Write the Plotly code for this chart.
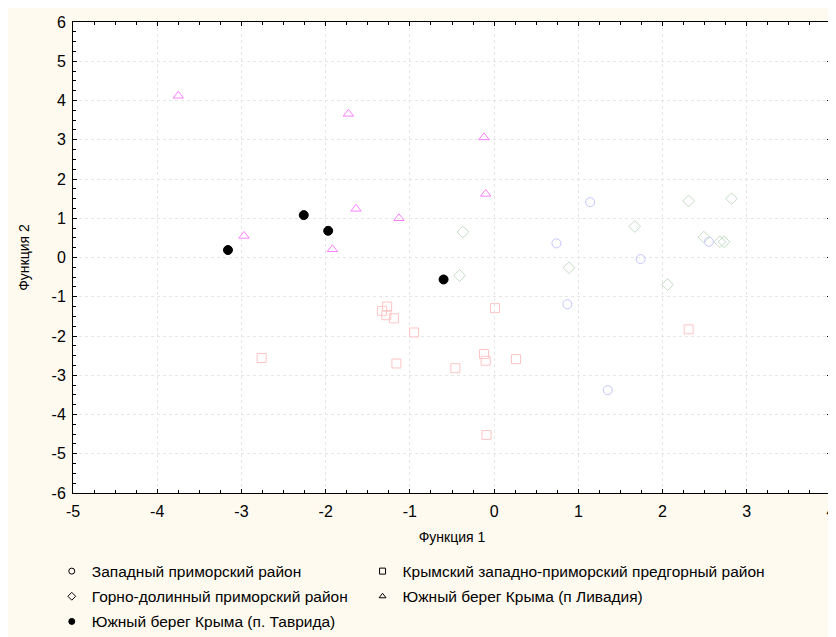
import plotly.graph_objects as go

# Западный приморский район (circles)
zap_x = [1.14, 0.74, 2.55, 1.74, 0.87, 1.35]
zap_y = [1.41, 0.36, 0.40, -0.04, -1.19, -3.38]

# Крымский западно-приморский предгорный район (squares)
krym_x = [-1.27, -1.33, -1.28, -1.19, -0.95, 0.01, -0.12, -0.10, 0.26, -1.16, -0.46, -0.09, 2.31, -2.76]
krym_y = [-1.25, -1.36, -1.47, -1.55, -1.91, -1.29, -2.46, -2.63, -2.59, -2.70, -2.82, -4.52, -1.83, -2.56]

# Горно-долинный приморский район (diamonds)
gorno_x = [2.31, 2.82, 1.67, 2.49, 2.68, 2.73, 0.89, 2.06, -0.41, -0.37]
gorno_y = [1.44, 1.50, 0.79, 0.52, 0.40, 0.40, -0.26, -0.69, -0.46, 0.65]

# Южный берег Крыма (п Ливадия) (triangles)
liv_x = [-3.75, -1.73, -0.12, -0.10, -1.64, -1.13, -2.97, -1.92]
liv_y = [4.12, 3.66, 3.06, 1.62, 1.24, 1.00, 0.55, 0.21]

# Южный берег Крыма (п. Таврида) (filled circles)
tav_x = [-3.16, -2.26, -1.97, -0.60]
tav_y = [0.19, 1.08, 0.68, -0.56]

names = [
    "Западный приморский район",
    "Крымский западно-приморский предгорный район",
    "Горно-долинный приморский район",
    "Южный берег Крыма (п Ливадия)",
    "Южный берег Крыма (п. Таврида)",
]

x_tickvals = [-5, -4, -3, -2, -1, 0, 1, 2, 3, 4]
x_ticktext = ["-5", "-4", "-3", "-2", "-1", "0", "1", "2", "3", "4"]
y_tickvals = [-6, -5, -4, -3, -2, -1, 0, 1, 2, 3, 4, 5, 6]
y_ticktext = ["-6", "-5", "-4", "-3", "-2", "-1", "0", "1", "2", "3", "4", "5", "6"]

fig = go.Figure()

data_traces = [
    (zap_x, zap_y, "circle-open", "#c4c4ff", names[0]),
    (krym_x, krym_y, "square-open", "#ffc4c4", names[1]),
    (gorno_x, gorno_y, "diamond-open", "#c4dcc4", names[2]),
    (liv_x, liv_y, "triangle-up-open", "#ff80ff", names[3]),
    (tav_x, tav_y, "circle", "#000000", names[4]),
]
for xs, ys, sym, col, nm in data_traces:
    fig.add_trace(go.Scatter(
        x=xs, y=ys, mode="markers", name=nm, showlegend=False,
        marker=dict(symbol=sym, size=9, color=col, line=dict(width=1, color=col)),
    ))

# legend entries (black symbols as in the reference), two columns
legend_syms = ["circle-open", "square-open", "diamond-open", "triangle-up-open", "circle"]
legend_cols = ["legend", "legend2", "legend", "legend2", "legend"]
for i, (sym, nm, lg) in enumerate(zip(legend_syms, names, legend_cols)):
    fig.add_trace(go.Scatter(
        x=[None], y=[None], mode="markers", name=nm, showlegend=True, legend=lg,
        legendgroup=f"g{i}",
        marker=dict(symbol=sym, size=6, color="black", line=dict(width=1, color="black")),
    ))

axis_common = dict(
    showline=True, linecolor="black", linewidth=1, mirror="ticks",
    ticks="inside", ticklen=4, tickcolor="black", tickwidth=1,
    showgrid=True, gridcolor="#e6e6e6", griddash="dot", gridwidth=1,
    zeroline=False, tickmode="array", automargin=False,
    minor=dict(ticks="inside", ticklen=3, tickcolor="black", dtick=0.25, tick0=0, showgrid=False),
    tickfont=dict(family="Liberation Sans, Arial", size=16, color="black"),
)

fig.update_xaxes(range=[-5, 4], tickvals=x_tickvals, ticktext=x_ticktext, ticklabelstandoff=4,
                 title=dict(text="Функция 1", font=dict(size=14, color="black"), standoff=12), **axis_common)
fig.update_yaxes(range=[-6, 6], tickvals=y_tickvals, ticktext=y_ticktext, ticklabelstandoff=3,
                 title=dict(text="Функция 2", font=dict(size=14, color="black"), standoff=18), **axis_common)

legend_common = dict(
    orientation="v", xanchor="left", yanchor="top", yref="container", y=0.142,
    bgcolor="rgba(0,0,0,0)", font=dict(family="Liberation Sans, Arial", size=15.5, color="black"),
    itemwidth=30, tracegroupgap=2,
)

fig.update_layout(
    width=836, height=637,
    margin=dict(l=65, r=13, t=14, b=152),
    paper_bgcolor="#fffaef",
    plot_bgcolor="white",
    font=dict(family="Liberation Sans, Arial", size=15, color="black"),
    legend=dict(x=-0.028, **legend_common),
    legend2=dict(x=0.382, **legend_common),
)

fig.write_html("out.html")
